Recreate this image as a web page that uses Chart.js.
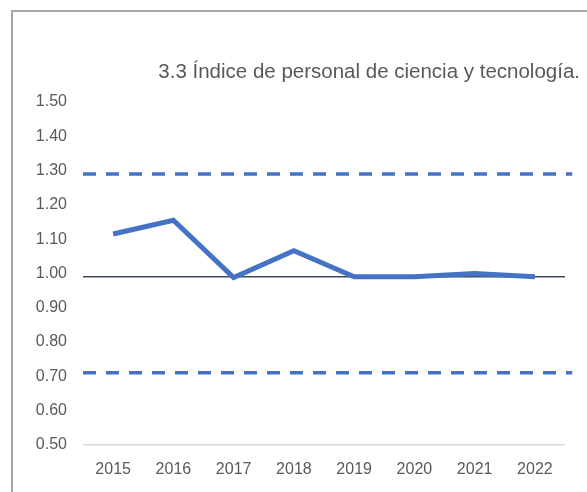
<!DOCTYPE html>
<html lang="es">
<head>
    <meta charset="UTF-8">
    <title>Índice de personal de ciencia y tecnología</title>
    <script src="https://cdn.jsdelivr.net/npm/chart.js"></script>
    <style>
        html, body {
            margin: 0;
            padding: 0;
            background: #ffffff;
            overflow: hidden;
        }
        #frame {
            position: absolute;
            left: 11px;
            top: 10px;
            width: 700px;
            height: 600px;
            border-left: 2px solid #a6a6a6;
            border-top: 2px solid #a6a6a6;
        }
        #wrap {
            position: absolute;
            left: 0;
            top: 0;
            width: 587px;
            height: 504px;
        }
    </style>
</head>
<body>

<div id="frame"></div>
<div id="wrap">
    <canvas id="indiceChart"></canvas>
</div>

<script>
    // Datos
    const years = ['2015', '2016', '2017', '2018', '2019', '2020', '2021', '2022'];
    const indice = [1.115, 1.155, 0.988, 1.066, 0.99, 0.99, 1.00, 0.99];
    const upperLimit = 1.29;
    const lowerLimit = 0.71;
    const reference = 0.99;
    const yTicks = [0.5, 0.6, 0.7, 0.8, 0.9, 1.0, 1.1, 1.2, 1.3, 1.4, 1.5];
    const titleText = '3.3 Índice de personal de ciencia y tecnología.';

    const grey = '#595959';
    const blue = '#4472C4';

    // horizontal lines across the whole plot, on a hidden linear x axis
    function flat(v) {
        return [{ x: 0, y: v }, { x: 1.015, y: v }];
    }

    // title drawn at the right, fitted to the width it has in the picture
    const titlePlugin = {
        id: 'titleRight',
        afterDraw(chart) {
            const c = chart.ctx;
            let size = 17;
            c.save();
            c.font = size + 'px "Liberation Sans"';
            const w = c.measureText(titleText).width;
            size = size * 422 / w;
            c.font = size + 'px "Liberation Sans"';
            c.fillStyle = grey;
            c.textAlign = 'right';
            c.textBaseline = 'alphabetic';
            c.fillText(titleText, 580, 78);
            c.restore();
        }
    };

    const ctx = document.getElementById('indiceChart').getContext('2d');
    const indiceChart = new Chart(ctx, {
        type: 'line',
        data: {
            labels: years,
            datasets: [
                {
                    label: 'Límite superior',
                    data: flat(upperLimit),
                    xAxisID: 'xr',
                    borderColor: blue,
                    borderWidth: 3.5,
                    borderDash: [13, 10],
                    pointRadius: 0,
                    clip: false,
                    fill: false
                },
                {
                    label: 'Límite inferior',
                    data: flat(lowerLimit),
                    xAxisID: 'xr',
                    borderColor: blue,
                    borderWidth: 3.5,
                    borderDash: [13, 10],
                    pointRadius: 0,
                    clip: false,
                    fill: false
                },
                {
                    label: 'Índice',
                    data: indice,
                    xAxisID: 'x',
                    borderColor: blue,
                    borderWidth: 5,
                    borderJoinStyle: 'miter',
                    pointRadius: 0,
                    tension: 0,
                    fill: false
                },
                {
                    label: 'Referencia',
                    data: [{ x: 0, y: reference }, { x: 1, y: reference }],
                    xAxisID: 'xr',
                    borderColor: '#3e4c5c',
                    borderWidth: 1.5,
                    pointRadius: 0,
                    fill: false
                }
            ]
        },
        options: {
            responsive: true,
            maintainAspectRatio: false,
            animation: false,
            layout: {
                padding: { left: 0, right: 22, top: 102, bottom: 10 }
            },
            plugins: {
                legend: { display: false },
                tooltip: { enabled: false },
                title: { display: false }
            },
            scales: {
                x: {
                    offset: true,
                    grid: { display: false, drawTicks: false },
                    border: { display: false },
                    ticks: {
                        color: grey,
                        font: { family: 'Liberation Sans', size: 16 },
                        padding: 15
                    }
                },
                xr: {
                    type: 'linear',
                    display: false,
                    min: 0,
                    max: 1
                },
                y: {
                    min: 0.5,
                    max: 1.5,
                    afterFit(scale) {
                        scale.width = 83;
                    },
                    afterBuildTicks(scale) {
                        scale.ticks = yTicks.map(v => ({ value: v }));
                    },
                    grid: {
                        drawTicks: false,
                        color: (c) => (c.tick && Math.abs(c.tick.value - 0.5) < 1e-6) ? '#d9d9d9' : 'rgba(0,0,0,0)',
                        lineWidth: 1.5
                    },
                    border: { display: false },
                    ticks: {
                        color: grey,
                        font: { family: 'Liberation Sans', size: 16 },
                        padding: 16,
                        callback: (v) => Number(v).toFixed(2)
                    }
                }
            }
        },
        plugins: [titlePlugin]
    });
</script>

</body>
</html>
